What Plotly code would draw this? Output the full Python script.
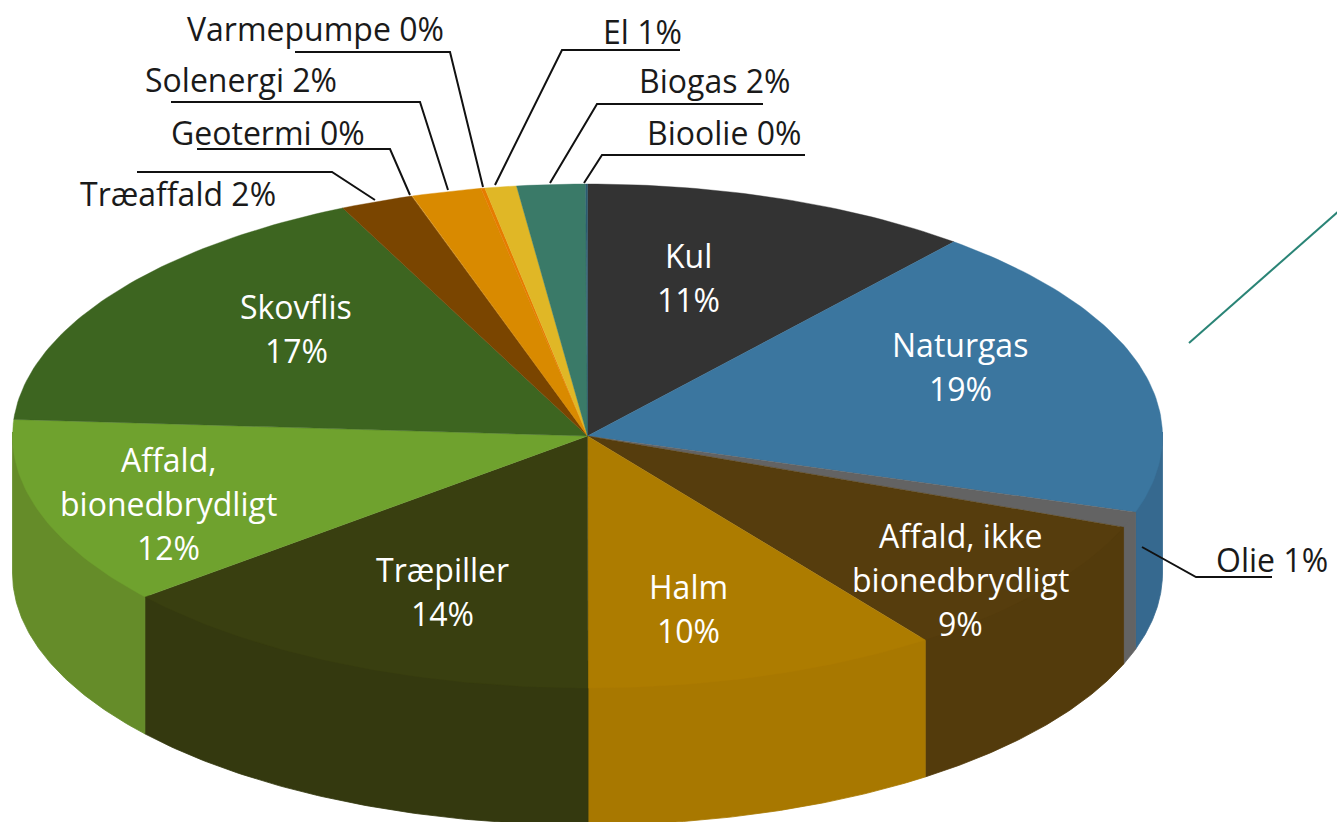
import numpy as np
import plotly.graph_objects as go

# ---- data (shares in percent, clockwise from 12 o'clock) ----
categories = ["Kul", "Naturgas", "Olie", "Affald, ikke bionedbrydligt", "Halm", "Træpiller",
              "Affald, bionedbrydligt", "Skovflis", "Træaffald", "Geotermi", "Solenergi",
              "Varmepumpe", "El", "Biogas", "Bioolie"]
values = [11.0, 18.9, 1.0, 9.12, 9.98, 14.0, 12.07, 16.96, 2.05, 0.02, 1.96, 0.11, 0.89, 1.92, 0.05]

# ---- styles ----
top_colors = ["#333333", "#3b769f", "#636363", "#563d0d", "#ad7c00", "#393f10", "#6fa22e",
              "#3d6520", "#7a4500", "#a05f00", "#d98a00", "#e67c00", "#e0b726", "#3a7a68", "#2a5a70"]
side_colors = ["#2e2e2e", "#36698f", "#636363", "#533b0c", "#a87800", "#34390f", "#658c29",
               "#375c1d", "#6e3e00", "#905500", "#c47c00", "#d07000", "#caa522", "#34705e", "#26516a"]

# ---- geometry of the drawn cylinder, in page pixels ----
CX, CY, RX, RY, DEPTH = 587.5, 436.0, 575.0, 252.0, 137.0
FONT = "Open Sans"
FS = 32


def rim(theta):
    return CX + RX * np.sin(theta), CY - RY * np.cos(theta)


fig = go.Figure()
shares = np.array(values) / sum(values) * 2 * np.pi
ends = np.cumsum(shares)
starts = ends - shares


def poly(x, y, color, width=0.4):
    fig.add_trace(go.Scatter(x=x, y=y, mode="lines", fill="toself", fillcolor=color,
                             line=dict(color=color, width=width), hoverinfo="skip", showlegend=False))


# side walls of the front half (their upper edge runs under the top faces)
for a, b, c in zip(starts, ends, side_colors):
    lo, hi = max(a, np.pi / 2), min(b, 3 * np.pi / 2)
    if hi <= lo:
        continue
    t = np.linspace(lo, hi, 80)
    x, y = rim(t)
    poly(np.r_[x, x[::-1], x[0]], np.r_[y - 4, y[::-1] + DEPTH, y[0] - 4], c, 0.8)

# top faces
for a, b, c in zip(starts, ends, top_colors):
    t = np.linspace(a, b, max(3, int((b - a) * 60)))
    x, y = rim(t)
    poly(np.r_[CX, x, CX], np.r_[CY, y, CY], c)

# leader lines, drawn as layout shapes in page pixels
leaders = [
    [(137, 172), (332, 172), (375, 200)],
    [(197, 149), (390, 149), (410, 195)],
    [(171, 102), (420, 102), (448, 190)],
    [(295, 52), (450, 52), (483, 187)],
    [(680, 50), (562, 50), (495, 185)],
    [(763, 104), (597, 104), (550, 183)],
    [(805, 155), (602, 155), (584, 183)],
    [(1142, 547), (1196, 577), (1272, 577)],
]
shapes = []
for pts in leaders:
    path = "M " + " L ".join(f"{x},{y}" for x, y in pts)
    shapes.append(dict(type="path", path=path, xref="x", yref="y",
                       line=dict(color="#111111", width=2)))
shapes.append(dict(type="line", x0=1189, y0=343, x1=1340, y1=210, xref="x", yref="y",
                   line=dict(color="#2a8476", width=2)))

# label positions: line centres
inside = {
    "Kul": (["Kul"], 688, [255, 299]),
    "Naturgas": (["Naturgas"], 960, [344, 388]),
    "Affald, ikke bionedbrydligt": (["Affald, ikke", "bionedbrydligt"], 960, [535, 579, 623]),
    "Halm": (["Halm"], 688, [586, 630]),
    "Træpiller": (["Træpiller"], 442, [569, 613]),
    "Affald, bionedbrydligt": (["Affald,", "bionedbrydligt"], 168, [459, 503, 547]),
    "Skovflis": (["Skovflis"], 296, [306, 350]),
}
outside = {
    "Olie": (1272, 559), "Træaffald": (178, 193), "Geotermi": (268, 132), "Solenergi": (241, 79),
    "Varmepumpe": (315, 28), "El": (642, 31), "Biogas": (714, 80), "Bioolie": (724, 132),
}
annotations = []


def label(text, x, y, color):
    annotations.append(dict(text=text, x=x, y=y, xref="x", yref="y", showarrow=False,
                            xanchor="center", yanchor="middle",
                            font=dict(family=FONT, size=FS, color=color)))


for name, v in zip(categories, values):
    pct = f"{round(v)}%"
    if name in inside:
        lines, x, ys = inside[name]
        for line, y in zip(lines + [pct], ys):
            label(line, x, y, "#ffffff")
    else:
        x, y = outside[name]
        label(f"{name} {pct}", x, y, "#1a1a1a")

fig.update_layout(
    width=1337, height=822, margin=dict(l=0, r=0, t=0, b=0),
    paper_bgcolor="white", plot_bgcolor="white", showlegend=False,
    xaxis=dict(range=[0, 1337], visible=False, fixedrange=True),
    yaxis=dict(range=[822, 0], visible=False, fixedrange=True),
    shapes=shapes, annotations=annotations,
)
fig.write_html("out.html", post_script="document.body.style.margin='0';document.body.style.overflow='hidden';",
               config=dict(displayModeBar=False))
